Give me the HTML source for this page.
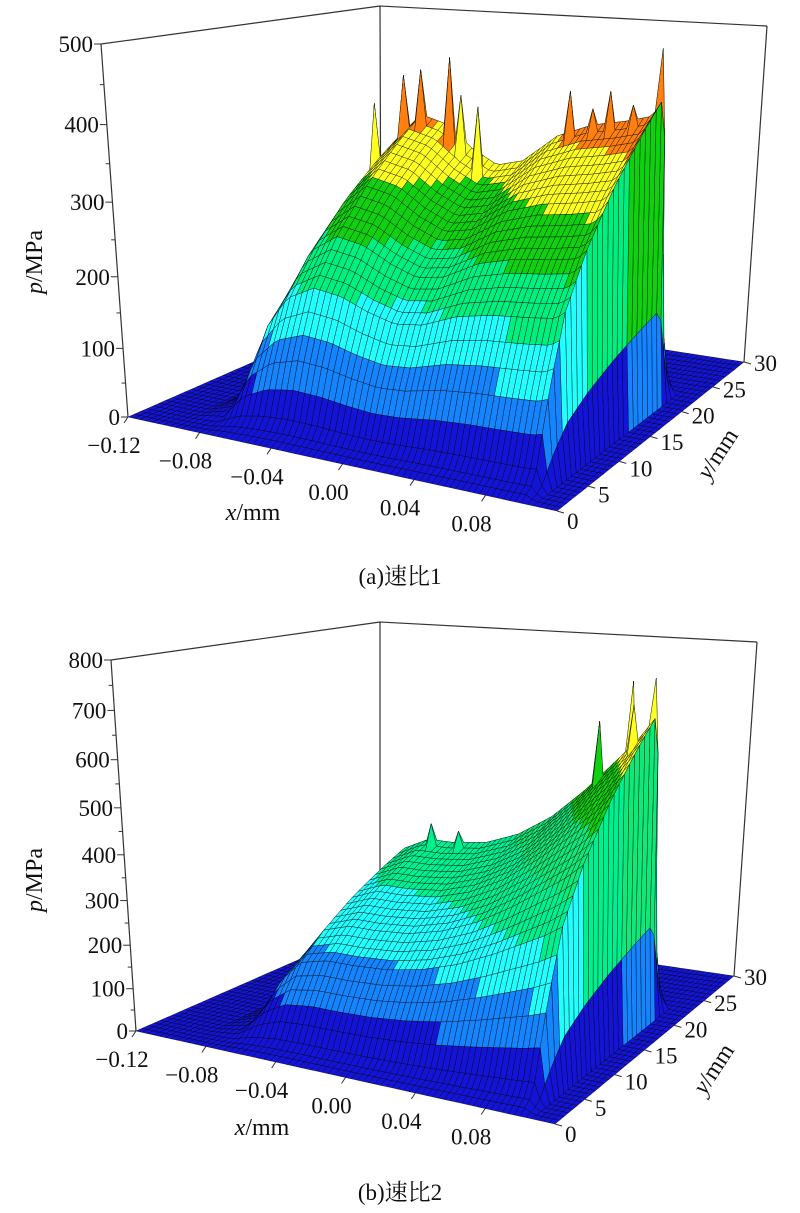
<!DOCTYPE html>
<html><head><meta charset="utf-8"><style>
html,body{margin:0;padding:0;background:#fff;}
svg{display:block;font-family:"Liberation Serif","Noto Serif CJK SC",serif;}
</style></head><body>
<svg id="fig" width="800" height="1213" viewBox="0 0 800 1213" xmlns="http://www.w3.org/2000/svg"></svg>
<script>
// ---------- data (chart a: speed ratio 1) ----------
const xKnotsA = [-0.12,-0.095,-0.08,-0.068,-0.055,-0.04,-0.025,-0.01,0.005,0.02,0.04,0.06,0.08,0.095,0.1,0.105,0.12];
const pressureA = [0,0,40,250,350,390,380,350,330,340,380,400,410,420,440,0,0];
const yKnotsA = [0,2,4,6,9,13,17,20,21.5,23,30];
const yShapeA = [0,0.04,0.3,0.5,0.65,0.8,0.92,1,0.25,0,0];
const spikesA = [[-0.06,18,400],[-0.048,19,440],[-0.036,19,450],[-0.02,19,470],[-0.012,19,420],[0.0,18,410],[0.05,19,440],[0.062,19,420],[0.074,19,445],[0.086,19,430],[0.096,20,500]];
const zTicksA = [0,100,200,300,400,500];
// ---------- data (chart b: speed ratio 2) ----------
const xKnotsB = [-0.12,-0.09,-0.075,-0.062,-0.05,-0.035,-0.02,0,0.02,0.04,0.06,0.075,0.09,0.1,0.105,0.12];
const pressureB = [0,0,40,240,340,370,370,380,410,460,530,590,650,700,0,0];
const yKnotsB = [0,2,4,6,9,13,17,20,21.5,23,30];
const yShapeB = [0,0.04,0.3,0.5,0.65,0.8,0.92,1,0.25,0,0];
const spikesB = [[-0.03,19,410],[-0.015,19,400],[0.07,19,680],[0.082,20,760],[0.09,19,720],[0.096,20,770]];
const zTicksB = [0,100,200,300,400,500,600,700,800];
// ---------- shared ----------
const xTicks = [-0.12,-0.08,-0.04,0.00,0.04,0.08];
const xTickLabels = ["\u22120.12","\u22120.08","\u22120.04","0.00","0.04","0.08"];
const yTicks = [0,5,10,15,20,25,30];

const NS="http://www.w3.org/2000/svg";
const svg=document.getElementById('fig');
function mk(tag,attrs,parent){const e=document.createElementNS(NS,tag);for(const k in attrs)e.setAttribute(k,attrs[k]);(parent||svg).appendChild(e);return e;}
function lin(xs,vs,x){if(x<=xs[0])return vs[0];for(let i=1;i<xs.length;i++){if(x<=xs[i]){const t=(x-xs[i-1])/(xs[i]-xs[i-1]);return vs[i-1]+t*(vs[i]-vs[i-1]);}}return vs[vs.length-1];}

function drawChart(C){
  const g=mk('g',{});
  
  
  const X0=-0.12,X1=0.12,Y0=0,Y1=30;
  function bil(a,b,c,d,u,v){return [(1-u)*(1-v)*a[0]+u*(1-v)*b[0]+(1-u)*v*c[0]+u*v*d[0],(1-u)*(1-v)*a[1]+u*(1-v)*b[1]+(1-u)*v*c[1]+u*v*d[1]];}
  function P(x,y,z){
    const u=(x-X0)/(X1-X0),v=(y-Y0)/(Y1-Y0);
    const b=bil(C.FLb,C.FRb,C.BLb,C.BRb,u,v),t=bil(C.FLt,C.FRt,C.BLt,C.BRt,u,v);
    const s=z/C.zmax,f=s*(0.9+0.1*s);
    return [b[0]+(t[0]-b[0])*f,b[1]+(t[1]-b[1])*f];
  }
  const ln=(a,b,nm)=>{const l=mk('line',{x1:a[0],y1:a[1],x2:b[0],y2:b[1],stroke:'#333','stroke-width':1.2},g);};
  ln(C.BLb,C.BLt,'back-vertical-edge');
  ln(C.FLt,C.BLt,'left-top-edge');
  ln(C.BLt,C.BRt,'back-top-edge');
  ln(C.BRt,C.BRb,'right-vertical-edge');
  const nx=72,ny=40;
  const Z=[];
  for(let i=0;i<=nx;i++){Z.push([]);const x=X0+(X1-X0)*i/nx;for(let j=0;j<=ny;j++){const y=Y0+(Y1-Y0)*j/ny;Z[i].push(lin(C.xk,C.px,x)*lin(C.yk,C.ys,y));}}
  for(const s of C.spikes){const i=Math.round((s[0]-X0)/(X1-X0)*nx),j=Math.round((s[1]-Y0)/(Y1-Y0)*ny);if(Z[i]&&Z[i][j]!==undefined)Z[i][j]=Math.max(Z[i][j],s[2]);}
  const quads=[];
  for(let i=0;i<nx;i++)for(let j=0;j<ny;j++){
    const xa=X0+(X1-X0)*i/nx,xb=X0+(X1-X0)*(i+1)/nx,ya=Y0+(Y1-Y0)*j/ny,yb=Y0+(Y1-Y0)*(j+1)/ny;
    const pts=[P(xa,ya,Z[i][j]),P(xb,ya,Z[i+1][j]),P(xb,yb,Z[i+1][j+1]),P(xa,yb,Z[i][j+1])];
    const avg=(Z[i][j]+Z[i+1][j]+Z[i+1][j+1]+Z[i][j+1])/4;
    const key=P((xa+xb)/2,(ya+yb)/2,0)[1];
    quads.push({pts,avg,key});
  }
  quads.sort((a,b)=>a.key-b.key);
  const sg=mk('g',{},g);
  
  
  for(const q of quads){
    const lvl=Math.max(0,Math.min(7,Math.floor(q.avg/C.zmax*8)));
    const p=mk('polygon',{points:q.pts.map(a=>a[0].toFixed(1)+','+a[1].toFixed(1)).join(' '),fill:C.colors[lvl],stroke:'#000','stroke-width':0.5,'stroke-opacity':0.75},sg);
    
    
  }
  ln(C.FLb,C.FLt,'z-axis');
  const step=C.zt[1]-C.zt[0];
  for(let k=0;k<C.zt.length;k++){
    const z=C.zt[k],a=P(X0,Y0,z);
    const t=mk('line',{x1:a[0],y1:a[1],x2:a[0]-7,y2:a[1],stroke:'#333','stroke-width':1},g);
    
    
    if(k<C.zt.length-1){const m=P(X0,Y0,z+step/2);const t2=mk('line',{x1:m[0],y1:m[1],x2:m[0]-4,y2:m[1],stroke:'#333','stroke-width':1},g);
      
      }
    const tx=mk('text',{x:a[0]-8,y:a[1]+8,'text-anchor':'end','font-size':23,fill:'#111'},g);
    tx.textContent=String(z);
    
    
  }
  for(let k=0;k<xTicks.length;k++){
    const a=P(xTicks[k],Y0,0);
    const t=mk('line',{x1:a[0],y1:a[1],x2:a[0]-4,y2:a[1]+6,stroke:'#333','stroke-width':1},g);
    
    
    const tx=mk('text',{x:a[0]-14,y:a[1]+36,'text-anchor':'middle','font-size':23,fill:'#111'},g);
    tx.textContent=xTickLabels[k];
    
    
  }
  for(let k=0;k<yTicks.length;k++){
    const a=P(X1,yTicks[k],0);
    const t=mk('line',{x1:a[0],y1:a[1],x2:a[0]+7,y2:a[1]+2,stroke:'#333','stroke-width':1},g);
    
    
    const tx=mk('text',{x:a[0]+10,y:a[1]+18-k*1.5,'text-anchor':'start','font-size':23,fill:'#111'},g);
    tx.textContent=String(yTicks[k]);
    
    
  }
  const zl=mk('text',{x:0,y:0,transform:`translate(${C.zLab[0]},${C.zLab[1]}) rotate(-90)`,'text-anchor':'middle','font-size':24,fill:'#111'},g);
  zl.innerHTML='<tspan font-style="italic">p</tspan>/MPa';
  
  
  const xl=mk('text',{x:C.xLab[0],y:C.xLab[1],'text-anchor':'middle','font-size':24,fill:'#111'},g);
  xl.innerHTML='<tspan font-style="italic">x</tspan>/mm';
  
  
  const yl=mk('text',{x:0,y:0,transform:`translate(${C.yLab[0]},${C.yLab[1]}) rotate(-57)`,'text-anchor':'middle','font-size':24,fill:'#111'},g);
  yl.innerHTML='<tspan font-style="italic">y</tspan>/mm';
  
  
  const cap=mk('text',{x:400,y:C.capY,'text-anchor':'middle','font-size':23,fill:'#111'},g);
  cap.textContent=C.caption;
  
  
}

const colA=['#1414d8','#1484ff','#22ffff','#00f080','#10d010','#ffff22','#ff8010','#ff1010'];
const colB=['#1414d8','#1484ff','#22ffff','#00f090','#10e878','#10d010','#ffff22','#ff8010'];
drawChart({name:'chart-a',zmax:500,xk:xKnotsA,px:pressureA,yk:yKnotsA,ys:yShapeA,spikes:spikesA,zt:zTicksA,colors:colA,
  FLb:[128,417],FRb:[557,511],BLb:[381,306],BRb:[744,362],
  FLt:[101,44],FRt:[572,105],BLt:[380,6],BRt:[767,26],
  zLab:[42,262],xLab:[253,520],yLab:[724,458],capY:584,caption:'(a)速比1'});
drawChart({name:'chart-b',zmax:800,xk:xKnotsB,px:pressureB,yk:yKnotsB,ys:yShapeB,spikes:spikesB,zt:zTicksB,colors:colB,
  FLb:[136,1031],FRb:[555,1124],BLb:[380,924],BRb:[734,976],
  FLt:[111,660],FRt:[570,718],BLt:[380,622],BRt:[757,642],
  zLab:[42,880],xLab:[262,1135],yLab:[720,1073],capY:1200,caption:'(b)速比2'});
</script>
</body></html>
